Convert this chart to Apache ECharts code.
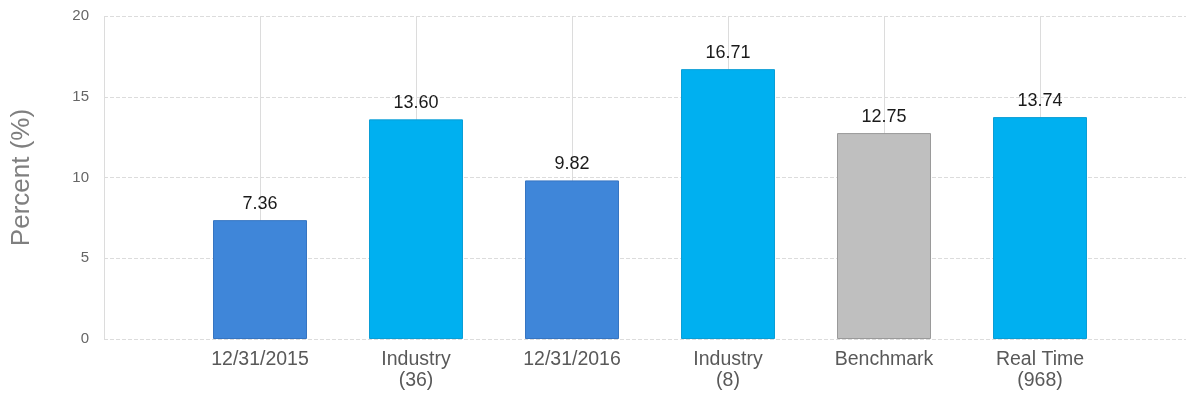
<!DOCTYPE html>
<html>
<head>
<meta charset="utf-8">
<style>
  html, body { margin: 0; padding: 0; background: #ffffff; }
  #chart { width: 1186px; height: 396px; }
</style>
<script src="https://cdn.jsdelivr.net/npm/echarts@6/dist/echarts.min.js"></script>
</head>
<body>
<div id="chart"></div>
<script>
// Category labels (an empty slot on each side keeps the ticks centred on bars)
const categories = ['12/31/2015', 'Industry\n(36)', '12/31/2016', 'Industry\n(8)', 'Benchmark', 'Real Time\n(968)'];
const values = [7.36, 13.60, 9.82, 16.71, 12.75, 13.74];
const barKinds = ['period', 'peer', 'period', 'peer', 'bench', 'peer'];
const yTicks = { min: 0, max: 20, interval: 5 };

const palette = {
  period: { fill: '#3F86D9', border: '#3675C2' },
  peer:   { fill: '#00B0F0', border: '#0A9ED6' },
  bench:  { fill: '#BFBFBF', border: '#9A9A9A' }
};

const axisData = [''].concat(categories, ['']);
const seriesData = [null].concat(values.map((v, i) => ({
  value: v,
  itemStyle: {
    color: palette[barKinds[i]].fill,
    borderColor: palette[barKinds[i]].border,
    borderWidth: 1
  }
})), [null]);

const chart = echarts.init(document.getElementById('chart'), null, { renderer: 'canvas' });
chart.setOption({
  animation: false,
  textStyle: { fontFamily: 'Liberation Sans, Arial, sans-serif' },
  grid: {
    left: 104, width: 1092, top: 16, bottom: 57,
    containLabel: false,
    outerBoundsMode: 'none'
  },
  xAxis: {
    type: 'category',
    data: axisData,
    boundaryGap: false,
    axisLine: { show: false },
    axisTick: { show: false },
    axisLabel: {
      interval: 0,
      color: '#595959',
      fontSize: 19.5,
      lineHeight: 21,
      margin: 10
    },
    splitLine: { show: true, lineStyle: { color: '#DCDCDC', width: 1, type: 'solid' } }
  },
  yAxis: {
    type: 'value',
    min: yTicks.min,
    max: yTicks.max,
    interval: yTicks.interval,
    name: 'Percent (%)',
    nameLocation: 'middle',
    nameGap: 69,
    nameRotate: 90,
    nameTextStyle: { color: '#7F7F7F', fontSize: 26 },
    axisLine: { show: false },
    axisTick: { show: false },
    axisLabel: { color: '#666666', fontSize: 15, margin: 15 },
    splitLine: { show: true, lineStyle: { color: '#DCDCDC', width: 1, type: [4, 2] } }
  },
  series: [{
    type: 'bar',
    data: seriesData,
    barWidth: 94,
    label: {
      show: true,
      position: 'top',
      distance: 7,
      color: '#1A1A1A',
      fontSize: 18,
      formatter: p => p.value == null ? '' : Number(p.value).toFixed(2)
    }
  }]
});
</script>
</body>
</html>
